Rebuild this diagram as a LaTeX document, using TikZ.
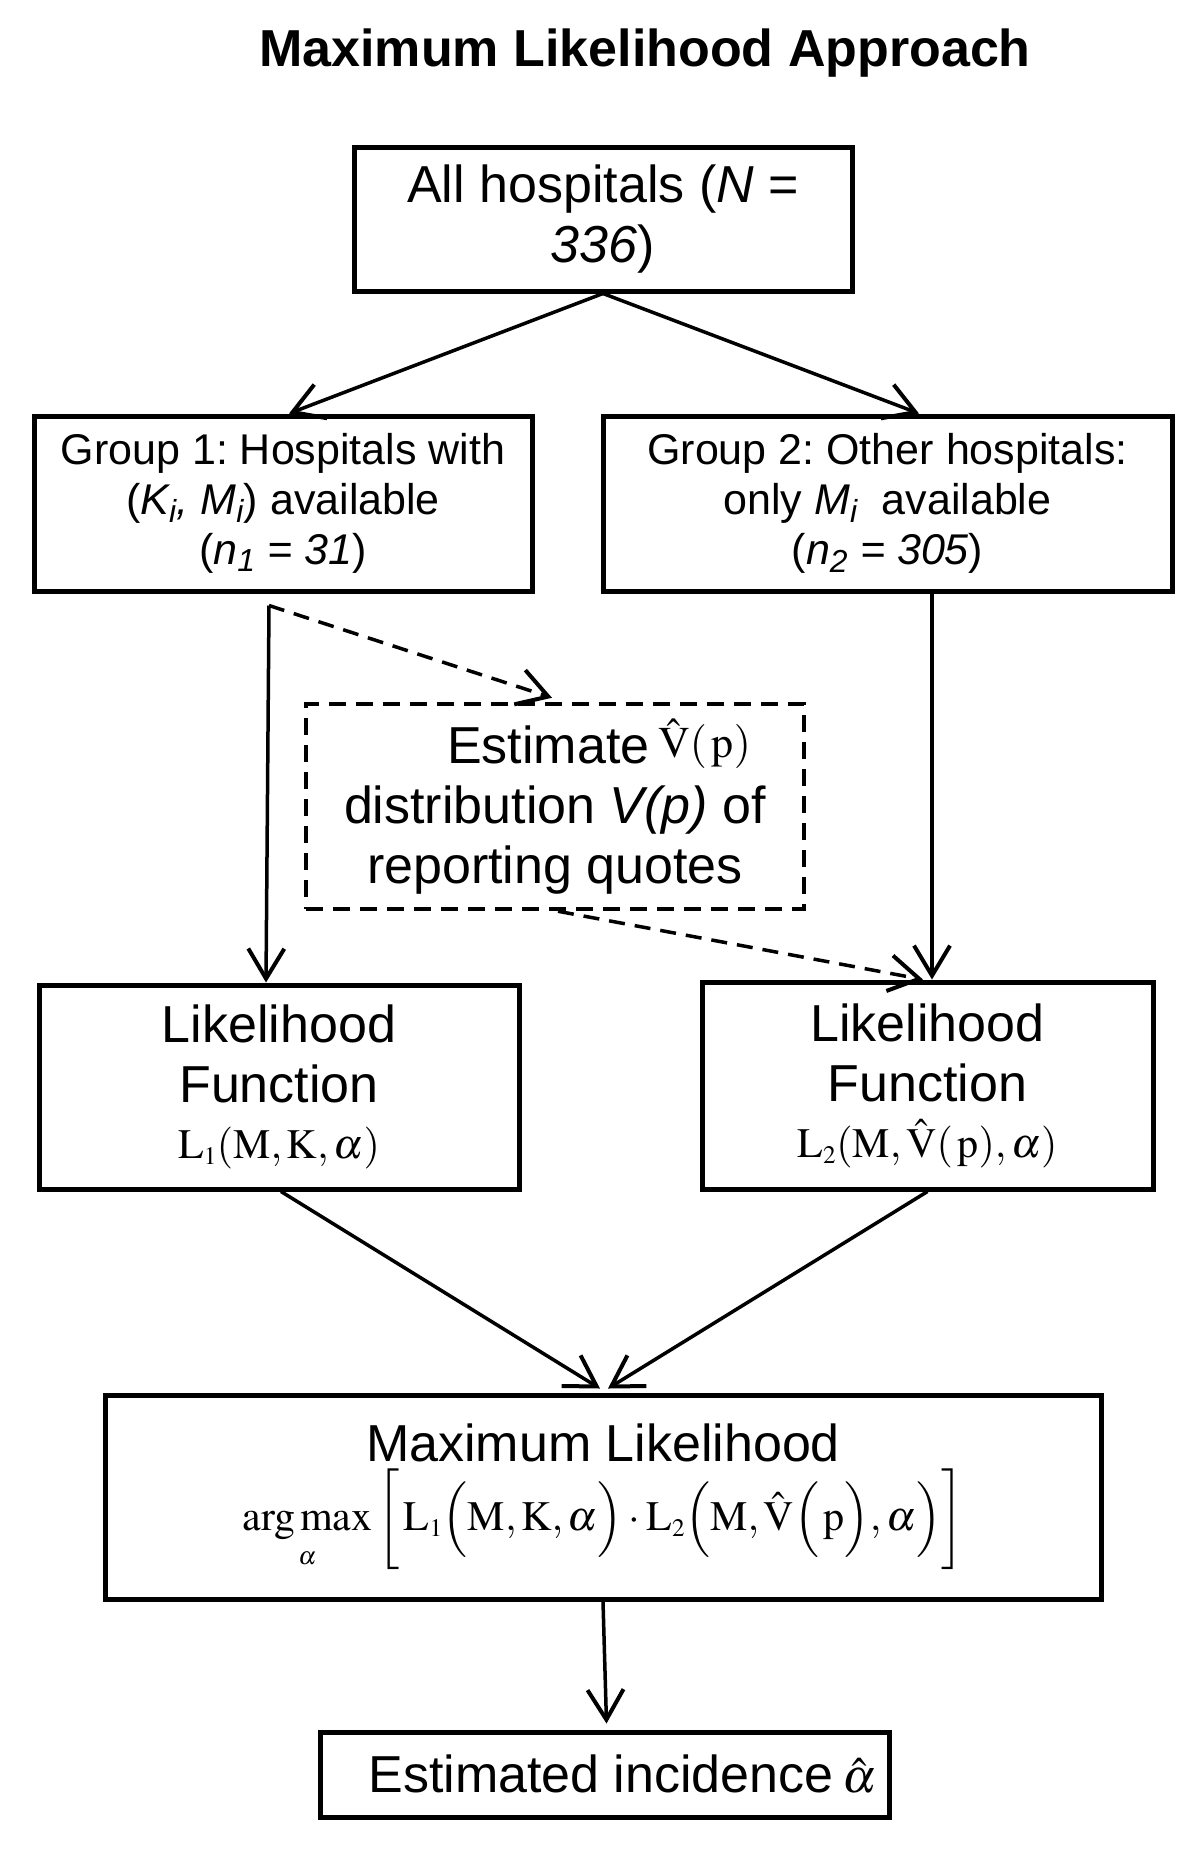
\documentclass[tikz,border=0pt]{standalone}
\usepackage{mathptmx}
\usepackage[no-math]{fontspec}
\setmainfont{Liberation Sans}
\usetikzlibrary{arrows.meta,calc}
\frenchspacing
\tikzset{
  box/.style={draw, line width=5pt, rectangle, inner sep=0pt, align=center,
    font=\fontsize{52}{60}\selectfont\frenchspacing},
  gbox/.style={box, font=\fontsize{43}{50}\selectfont\frenchspacing},
  dbox/.style={box, line width=4.5pt, dash pattern=on 17pt off 10pt},
  conn/.style={line width=3.5pt, -{Straight Barb[length=30pt,width=36pt,line width=4pt]}},
  dconn/.style={conn, dash pattern=on 16pt off 10pt},
  ttl/.style={font=\fontsize{52}{60}\selectfont\bfseries, inner sep=0pt},
}
\newcommand{\fsmall}{\fontsize{42}{42}\selectfont}
\begin{document}
\begin{tikzpicture}[x=1pt,y=-1pt]
\useasboundingbox (0,0) rectangle (1200,1850);
\node[ttl] (title) at (645,53) {Maximum Likelihood Approach};
\node[box, minimum width=498pt, minimum height=144pt] (top) at (603,219)
  {All hospitals (\textit{N} =\\\textit{336})};
\node[gbox, minimum width=498pt, minimum height=175pt] (g1) at (283,503.5)
  {Group 1: Hospitals with\\(\textit{K\textsubscript{i}, M\textsubscript{i}}) available\\(\textit{n\textsubscript{1} = 31})};
\node[gbox, minimum width=569pt, minimum height=175pt] (g2) at (887.5,503.5)
  {Group 2: Other hospitals:\\only \textit{M\textsubscript{i}}\ \ available\\(\textit{n\textsubscript{2} = 305})};
\node[dbox, minimum width=498pt, minimum height=205pt] (est) at (555,806.5)
  {\hspace*{88pt}Estimate\,\raisebox{6pt}{\fontsize{44}{44}\selectfont$\hat{\mathrm{V}}(\,\mathrm{p})$}\\distribution \textit{V(p)} of\\reporting quotes};
\node[box, minimum width=480pt, minimum height=204pt] (lf1) at (279,1087)
  {Likelihood\\Function\\[-4pt]{\fsmall$\mathrm{L}_{\scriptscriptstyle 1}(\mathrm{M},\mathrm{K},\alpha)$}};
\node[box, minimum width=451pt, minimum height=207pt] (lf2) at (927.5,1085.5)
  {Likelihood\\Function\\[-4pt]{\fsmall$\mathrm{L}_{\scriptscriptstyle 2}(\mathrm{M},\hat{\mathrm{V}}(\,\mathrm{p}),\alpha)$}};
\node[box, minimum width=996pt, minimum height=204pt] (ml) at (603,1497)
  {Maximum Likelihood\\[6pt]{\fontsize{42}{44}\selectfont$\displaystyle\mathop{\mathrm{arg\,max}}\limits_{\scriptscriptstyle\alpha}\bigg[\,\mathrm{L}_{\scriptscriptstyle 1}\Big(\mathrm{M},\mathrm{K},\alpha\Big)\cdot\mathrm{L}_{\scriptscriptstyle 2}\Big(\mathrm{M},\hat{\mathrm{V}}\Big(\,\mathrm{p}\Big),\alpha\Big)\bigg]$}};
\node[box, minimum width=569pt, minimum height=85pt] (fin) at (604.5,1774.5)
  {\hspace*{36pt}Estimated incidence\,{\fontsize{48}{48}\selectfont$\hat{\alpha}$}};
\coordinate (g1s) at ($(g1.south)+(-14,12)$);
\draw[conn] (top.south) -- ($(g1.north)+(6,0)$);
\draw[conn] (top.south) -- ($(g2.north)+(31.5,0)$);
\draw[conn] (g1s) -- ($(lf1.north)+(-13,0)$);
\draw[dconn] (g1s) -- ($(est.north)+(-3,-4)$);
\draw[conn] ($(g2.south)+(44.5,0)$) -- ($(lf2.north)+(4.5,0)$);
\draw[dconn] ($(est.south)+(3,0)$) -- ($(lf2.north)+(-4.5,0)$);
\draw[conn] ($(lf1.south)+(2,0)$) -- ($(ml.north)+(-3,-4)$);
\draw[conn] (lf2.south) -- ($(ml.north)+(5,-4)$);
\draw[conn] (ml.south) -- ($(fin.north)+(2,-6)$);
\end{tikzpicture}
\end{document}
